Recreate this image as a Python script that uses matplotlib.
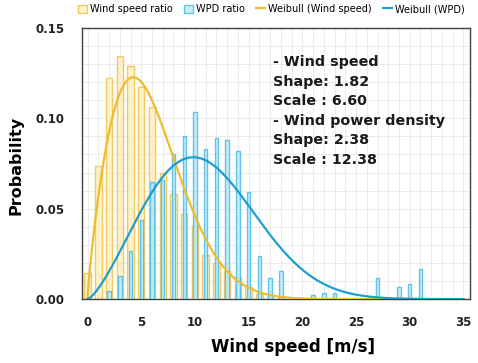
import numpy as np
import matplotlib
matplotlib.use('Agg')
import matplotlib.pyplot as plt
from matplotlib.ticker import MultipleLocator, FormatStrFormatter

# data
bins = np.arange(0, 36)
ws_ratio = [0.0147, 0.0736, 0.1225, 0.1346, 0.1290, 0.1175, 0.1060, 0.0699,
            0.0584, 0.0472, 0.0403, 0.0245, 0.0201, 0.0158, 0.0123, 0.0065,
            0.0026, 0.0010, 0.0005, 0, 0, 0, 0, 0, 0, 0, 0, 0, 0, 0, 0, 0,
            0, 0, 0, 0]
wpd_ratio = [0, 0, 0.0045, 0.0128, 0.0264, 0.0437, 0.0646, 0.0658, 0.0803,
             0.0903, 0.1037, 0.0832, 0.0894, 0.0881, 0.0821, 0.0593, 0.0236,
             0.0115, 0.0156, 0, 0, 0.0022, 0.0032, 0.0032, 0, 0, 0, 0.0115,
             0, 0.0067, 0.0082, 0.0169, 0, 0, 0, 0]

# weibull parameters shown in the chart
ws_shape, ws_scale = 1.82, 6.60
wpd_shape, wpd_scale = 2.38, 12.38

def weibull_pdf(x, k, lam):
    return (k / lam) * (x / lam) ** (k - 1) * np.exp(-(x / lam) ** k)

xs = np.linspace(0, 35, 400)

c_ws_line = '#F0BC2E'
c_ws_edge = '#F1BF40'
c_ws_fill = '#FFF1C0'
c_wpd_line = '#1E9ECF'
c_wpd_edge = '#3DB9E8'
c_wpd_fill = '#BFE8F8'

fig = plt.figure(figsize=(4.78, 3.63), dpi=100)
ax = fig.add_axes([0.172, 0.176, 0.811, 0.747])

b1 = ax.bar(bins, ws_ratio, width=0.6, color=c_ws_fill, alpha=0.8,
            edgecolor=c_ws_edge, linewidth=1.0, label='Wind speed ratio', zorder=2)
b2 = ax.bar(bins, wpd_ratio, width=0.32, color=c_wpd_fill, alpha=0.8,
            edgecolor=c_wpd_edge, linewidth=1.0, label='WPD ratio', zorder=3)
l1, = ax.plot(xs, weibull_pdf(xs, ws_shape, ws_scale), color=c_ws_line, lw=1.6,
              label='Weibull (Wind speed)', zorder=4)
l2, = ax.plot(xs, weibull_pdf(xs, wpd_shape, wpd_scale), color=c_wpd_line, lw=1.6,
              label='Weibull (WPD)', zorder=4)

ax.set_xlim(-0.5, 35.6)
ax.set_ylim(0, 0.15)
ax.xaxis.set_major_locator(MultipleLocator(5))
ax.yaxis.set_major_locator(MultipleLocator(0.05))
ax.xaxis.set_minor_locator(MultipleLocator(1))
ax.yaxis.set_minor_locator(MultipleLocator(0.01))
ax.grid(which='both', color='#E8E8E8', lw=0.6, zorder=0)
ax.set_axisbelow(True)
ax.yaxis.set_major_formatter(FormatStrFormatter('%.2f'))
ax.tick_params(which='both', length=0)
ax.tick_params(axis='y', pad=13, labelsize=8.5, labelcolor='#222222')
ax.tick_params(axis='x', pad=12, labelsize=8.5, labelcolor='#222222')
for lab in ax.get_xticklabels() + ax.get_yticklabels():
    lab.set_fontweight('bold')
for s in ax.spines.values():
    s.set_color('#404040')
    s.set_linewidth(1.0)

fig.text(293 / 478, 1 - 347 / 363, 'Wind speed [m/s]', ha='center', va='center',
         fontsize=12, fontweight='bold')
fig.text(16 / 478, 0.545, 'Probability', ha='center', va='center',
         rotation=90, fontsize=11.5, fontweight='bold')

ax.text(0.492, 0.90, '- Wind speed\nShape: 1.82\nScale : 6.60\n- Wind power density\nShape: 2.38\nScale : 12.38',
        transform=ax.transAxes, ha='left', va='top', fontsize=10.3,
        fontweight='bold', linespacing=1.5, color='#1a1a1a')

fig.legend([b1, b2, l1, l2],
           ['Wind speed ratio', 'WPD ratio', 'Weibull (Wind speed)', 'Weibull (WPD)'],
           loc='center', bbox_to_anchor=(0.568, 0.975), ncol=4, frameon=False,
           fontsize=7, handlelength=0.9, handleheight=0.9, handletextpad=0.3,
           columnspacing=1.2, borderaxespad=0)

fig.savefig('out.png', dpi=100)
